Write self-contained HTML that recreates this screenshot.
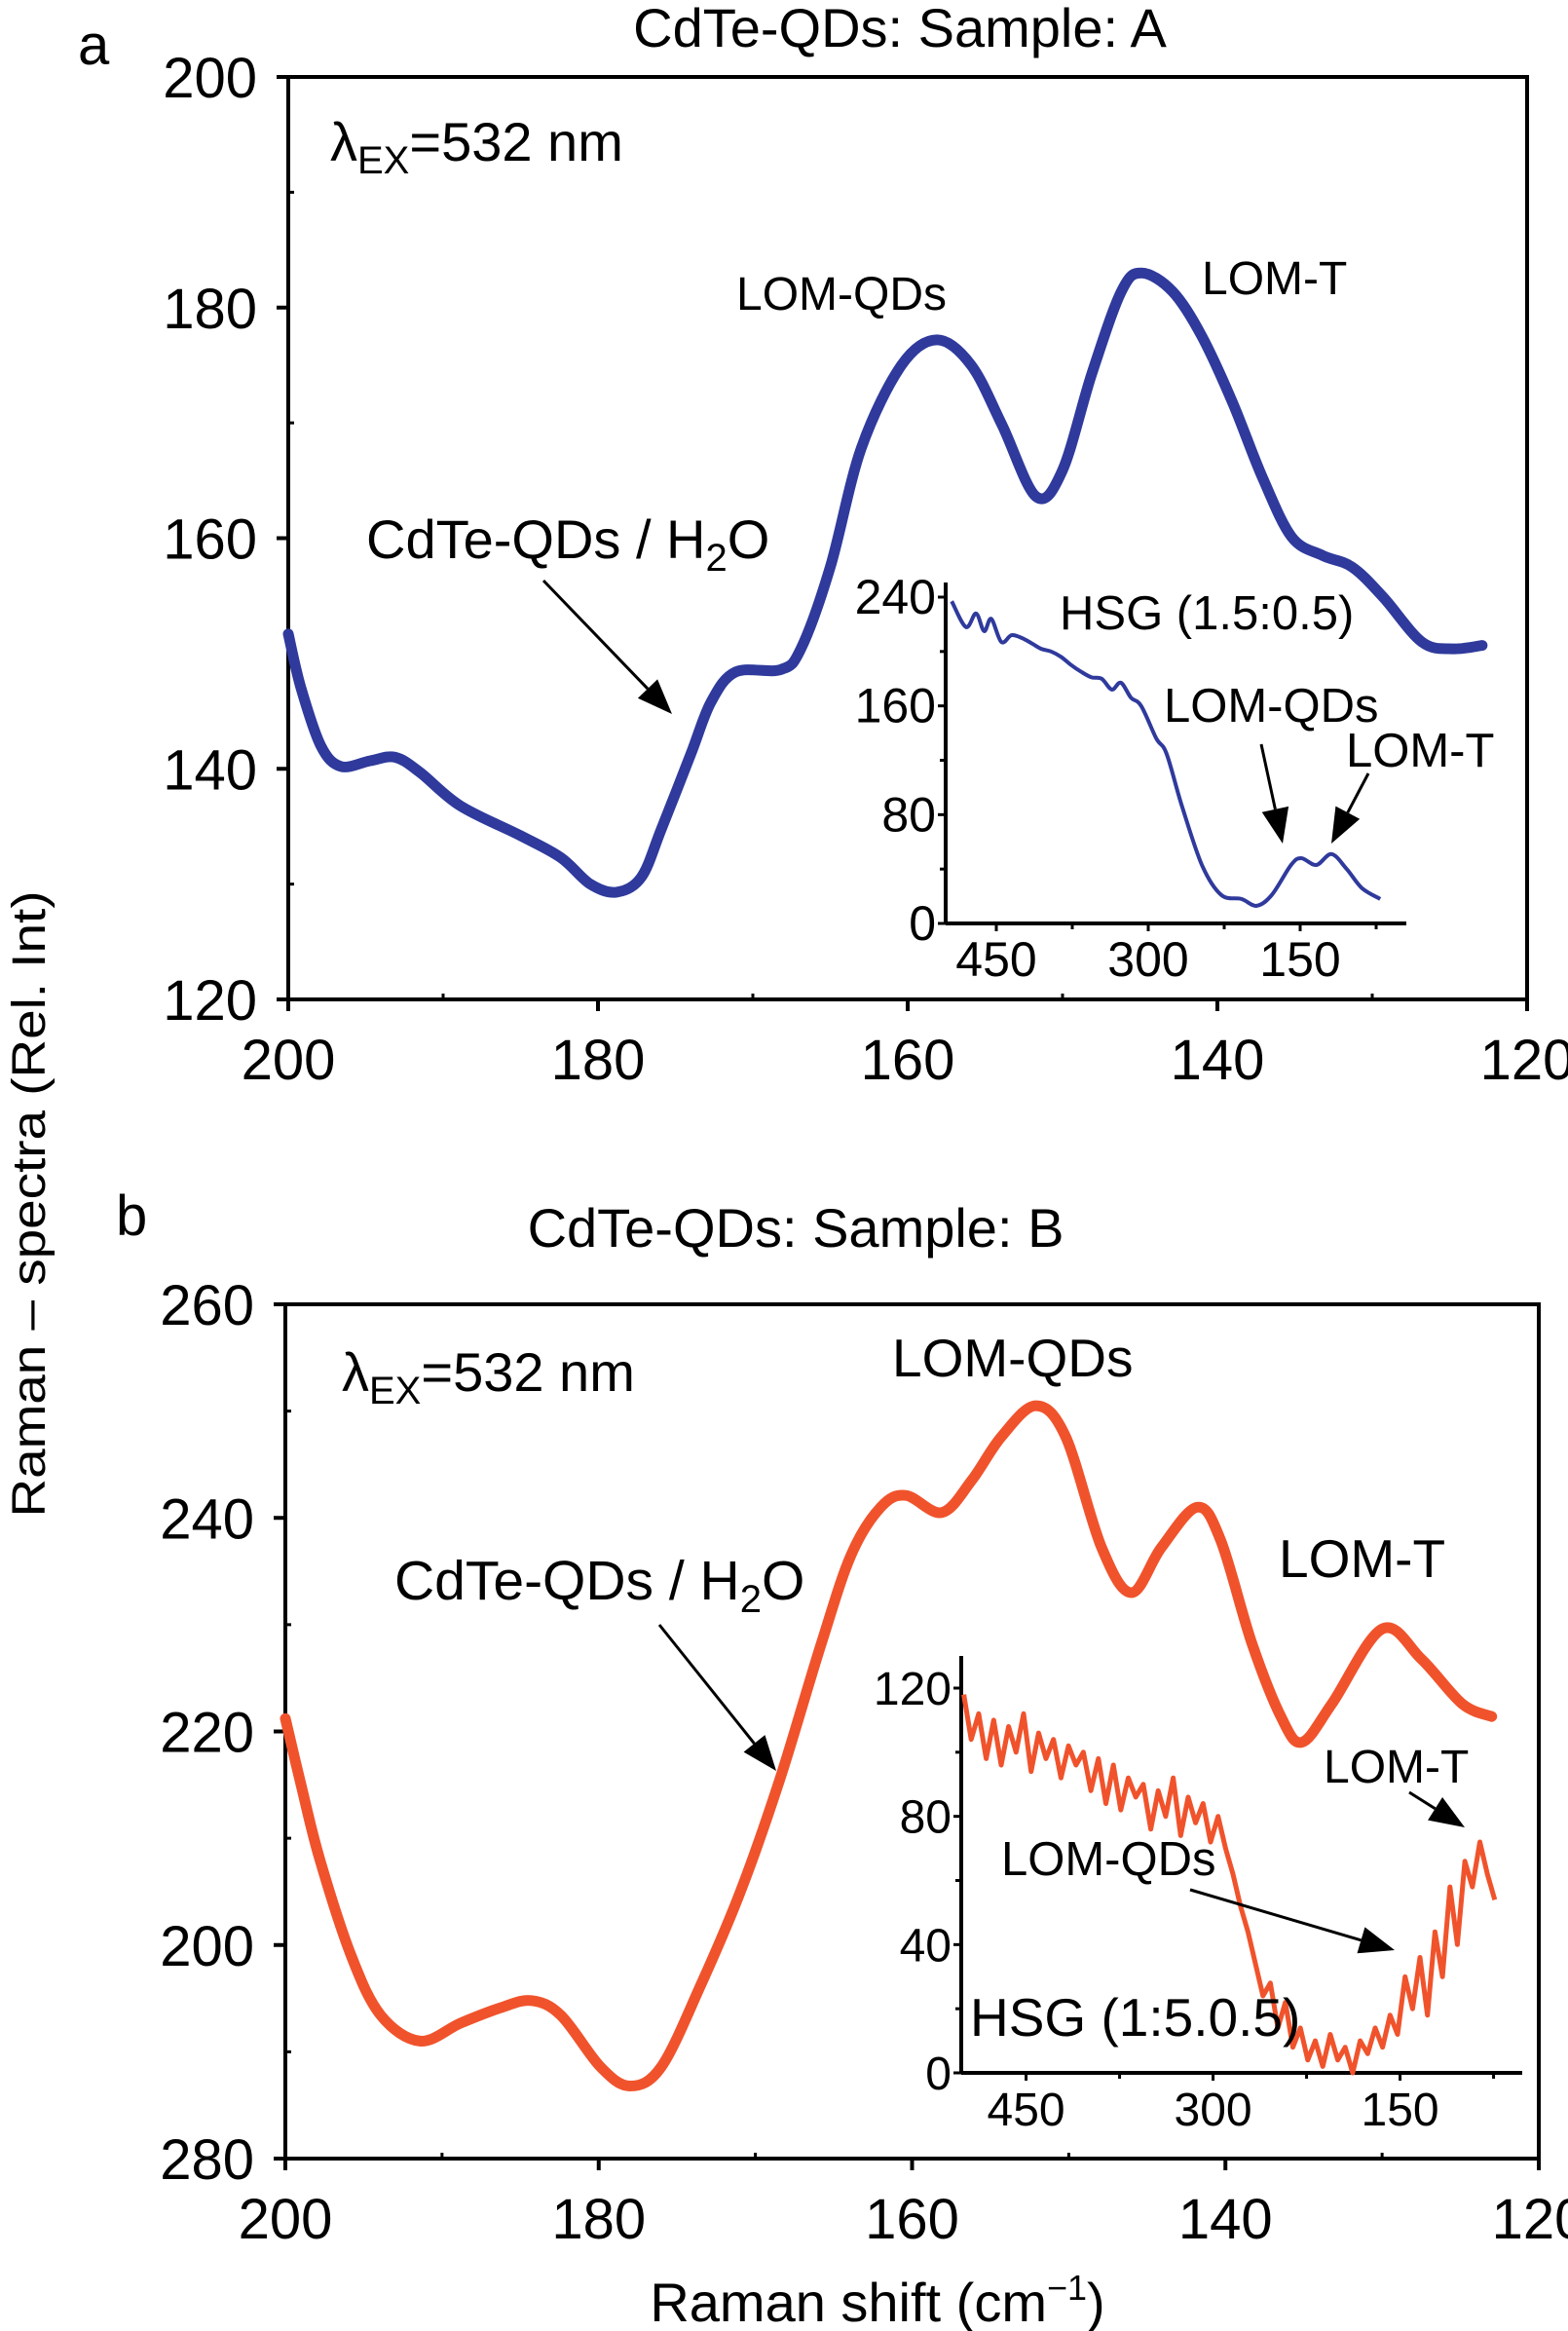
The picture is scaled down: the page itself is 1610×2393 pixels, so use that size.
<!DOCTYPE html>
<html><head><meta charset="utf-8"><style>
html,body{margin:0;padding:0;background:#fff}
svg{display:block}
text{font-family:"Liberation Sans",Arial,sans-serif;fill:#000}
</style></head><body>
<svg id="fig" width="1610" height="2393" viewBox="0 0 1610 2393" xmlns="http://www.w3.org/2000/svg">
<g id="layer"></g>
</svg>
<script>
// ---- Panel A main data ----
const aX=[200,199.2,197.9,196.6,194.7,193.1,191.5,188.9,185,182.4,180.5,178.8,177.2,175.9,174,172.7,171.1,168.2,166.9,165,163,160.4,158.1,155.9,153.9,151.7,150,148.1,146.2,144.9,142.9,141,139,137.1,135.2,133.2,131.3,129.3,126.8,124.8,122.9];
const aY=[151.7,147.1,142,140.2,140.7,141,139.7,136.8,134.2,132.3,130,129.3,130.6,134.8,141.3,145.8,148.4,148.6,150.4,157.5,167.8,175,177.2,175,169.8,163.6,165.9,174.3,181.4,183,181.4,177.5,171.7,165.3,160.1,158.5,157.5,154.9,151,150.4,150.7];
const aYTicks=[200,180,160,140,120];
const aXTicks=[200,180,160,140,120];
// ---- Panel A inset data ----
const aiX=[494,480,470,462,455,445,435,425,415,406,396,386,376,366,356,346,336,327,317,307,292,282,267,247,228,208,193,178,159,149,134,119,104,89,71];
const aiY=[237,218,228,215,224,207,212,210,206,202,200,196,190,185,181,180,172,177,166,160,136,125,87,43,21,18,13,21,43,48,43,51,40,26,18];
const aiYTicks=[240,160,80,0];
const aiXTicks=[450,300,150];
// ---- Panel B main data ----
const bX=[200,199,197.8,195.8,193.9,191.4,188.8,186.3,184.3,182.4,179.9,178,176,173.5,170.9,168.4,165.8,163.9,162,160.4,158.1,156.2,154.3,152.1,150.2,147.9,146,144.1,141.8,140.3,138.3,136.4,135.1,133.2,130,127.5,124.9,123];
const bY=[221.2,215,208,199,193.4,191,192.7,194.1,194.8,193.4,188.6,186.8,188.6,196.2,205.2,215.7,228.2,236.5,241,242.1,240.5,243.5,247.6,250.5,247.6,237.2,233,237.2,241,237.9,228.2,221.2,219,222.6,229.6,226.8,222.6,221.4];
const bYTicks=[260,240,220,200,180];
const bYTickLabels=["260","240","220","200","280"];
const bXTicks=[200,180,160,140,120];
// ---- Panel B inset data (noisy) ----
const biX=[500,494,488,482,476,470,464,458,452,446,440,434,428,422,416,410,404,398,392,386,380,374,368,362,356,350,344,338,332,326,320,314,308,302,296,290,284,278,272,266,260,254,248,242,236,230,224,218,212,206,200,194,188,182,176,170,164,158,152,146,140,134,128,122,116,110,104,98,92,86,80,74];
const biY=[118,104,112,98,110,96,108,100,112,94,106,98,104,92,102,96,100,88,98,84,96,82,92,86,90,76,88,80,92,74,86,78,84,72,80,70,62,52,44,34,24,28,14,22,8,14,4,10,2,12,4,8,0,10,6,14,8,18,12,30,20,36,18,44,30,58,40,66,58,72,62,54];
const biYTicks=[120,80,40,0];
const biXTicks=[450,300,150];

const NS='http://www.w3.org/2000/svg';
const layer=document.getElementById('layer');
function el(tag,attrs,parent){const e=document.createElementNS(NS,tag);for(const k in attrs)e.setAttribute(k,attrs[k]);(parent||layer).appendChild(e);return e;}
function lin(d0,d1,r0,r1){return v=>r0+(v-d0)*(r1-r0)/(d1-d0);}
function pathD(xs,ys,sx,sy){return xs.map((x,i)=>(i?'L':'M')+sx(x).toFixed(1)+','+sy(ys[i]).toFixed(1)).join(' ');}
function smoothD(xs,ys,sx,sy){
  const P=xs.map((x,i)=>[sx(x),sy(ys[i])]);
  let d='M'+P[0][0].toFixed(1)+','+P[0][1].toFixed(1);
  for(let i=0;i<P.length-1;i++){
    const p0=P[Math.max(0,i-1)],p1=P[i],p2=P[i+1],p3=P[Math.min(P.length-1,i+2)];
    const c1=[p1[0]+(p2[0]-p0[0])/6,p1[1]+(p2[1]-p0[1])/6];
    const c2=[p2[0]-(p3[0]-p1[0])/6,p2[1]-(p3[1]-p1[1])/6];
    d+=` C${c1[0].toFixed(1)},${c1[1].toFixed(1)} ${c2[0].toFixed(1)},${c2[1].toFixed(1)} ${p2[0].toFixed(1)},${p2[1].toFixed(1)}`;
  }
  return d;
}
function txt(s,x,y,size,anchor,name,parent){const t=el('text',{x:x,y:y,'font-size':size,'text-anchor':anchor||'start'},parent);t.textContent=s;


return t;}

function panel(o){
  const g=el('g',{});
  
  
  const sx=lin(o.xd[0],o.xd[1],o.L,o.R), sy=lin(o.yd[0],o.yd[1],o.B,o.T);
  const frame=el('rect',{x:o.L,y:o.T,width:o.R-o.L,height:o.B-o.T,fill:'none',stroke:'#000','stroke-width':4},g);
  
  
  o.yTicks.forEach((v,i)=>{
    const y=sy(v);
    el('line',{x1:o.L-12,x2:o.L,y1:y,y2:y,stroke:'#000','stroke-width':4},g);
    if(i<o.yTicks.length-1){const m=sy((v+o.yTicks[i+1])/2);el('line',{x1:o.L,x2:o.L+6,y1:m,y2:m,stroke:'#000','stroke-width':3},g);}
    txt(o.yLabels?o.yLabels[i]:String(v),o.L-32,y+21,58,'end','y-tick-label',g);
  });
  o.xTicks.forEach((v,i)=>{
    const x=sx(v);
    el('line',{x1:x,x2:x,y1:o.B,y2:o.B+12,stroke:'#000','stroke-width':4},g);
    if(i<o.xTicks.length-1){const m=sx((v+o.xTicks[i+1])/2);el('line',{x1:m,x2:m,y1:o.B,y2:o.B-6,stroke:'#000','stroke-width':3},g);}
    txt(String(v),x,o.B+82,58,'middle','x-tick-label',g);
  });
  const p=el('path',{d:smoothD(o.xs,o.ys,sx,sy),fill:'none',stroke:o.color,'stroke-width':11,'stroke-linejoin':'round','stroke-linecap':'round'},g);
  
  
  return g;
}
function inset(o){
  const g=el('g',{});
  
  
  const sx=lin(o.xd[0],o.xd[1],o.L,o.R), sy=lin(o.yd[0],o.yd[1],o.B,o.T);
  el('line',{x1:o.L,x2:o.L,y1:o.axTop,y2:o.B,stroke:'#000','stroke-width':4},g);
  el('line',{x1:o.L,x2:o.axRight,y1:o.B,y2:o.B,stroke:'#000','stroke-width':4},g);
  o.yTicks.forEach((v,i)=>{const y=sy(v);
    el('line',{x1:o.L-8,x2:o.L,y1:y,y2:y,stroke:'#000','stroke-width':3},g);
    if(i<o.yTicks.length-1){const m=sy((v+o.yTicks[i+1])/2);el('line',{x1:o.L-6,x2:o.L,y1:m,y2:m,stroke:'#000','stroke-width':3},g);}
    txt(String(v),o.L-10,y+17,o.fs,'end','inset-y-tick-label',g);});
  o.xTicks.forEach(v=>{const x=sx(v);
    el('line',{x1:x,x2:x,y1:o.B,y2:o.B+8,stroke:'#000','stroke-width':3},g);
    const m=sx(v-75);el('line',{x1:m,x2:m,y1:o.B,y2:o.B+6,stroke:'#000','stroke-width':3},g);
    txt(String(v),x,o.B+54,o.fs,'middle','inset-x-tick-label',g);});
  const p=el('path',{d:o.smooth?smoothD(o.xs,o.ys,sx,sy):pathD(o.xs,o.ys,sx,sy),fill:'none',stroke:o.color,'stroke-width':o.sw,'stroke-linejoin':'round'},g);
  
  
}
function arrow(x1,y1,x2,y2,name){
const ang=Math.atan2(y2-y1,x2-x1),L=36,W=14;
const bx=x2-L*Math.cos(ang),by=y2-L*Math.sin(ang);
const a=el('line',{x1:x1,y1:y1,x2:bx,y2:by,stroke:'#000','stroke-width':3});


const h=el('polygon',{points:`${x2},${y2} ${bx+W*Math.sin(ang)},${by-W*Math.cos(ang)} ${bx-W*Math.sin(ang)},${by+W*Math.cos(ang)}`,fill:'#000'});

}

// Panel A
panel({name:'panel-a',L:296,R:1568,T:79,B:1026,xd:[200,120],yd:[120,200],xTicks:aXTicks,yTicks:aYTicks,xs:aX,ys:aY,color:'#2f3a9c'});
inset({name:'inset-a',L:971,R:971+450*1.04,xd:[500,50],T:613,B:948,yd:[0,240],axTop:598,axRight:1444,xTicks:aiXTicks,yTicks:aiYTicks,xs:aiX,ys:aiY,color:'#2f3a9c',sw:4,fs:50,smooth:true});
// Panel B
panel({name:'panel-b',L:293,R:1580,T:1339,B:2216,xd:[200,120],yd:[180,260],xTicks:bXTicks,yTicks:bYTicks,yLabels:bYTickLabels,xs:bX,ys:bY,color:'#f0532c'});
inset({name:'inset-b',L:987,R:987+450*1.28,xd:[502,52],T:1733,B:2128,yd:[0,120],axTop:1700,axRight:1563,xTicks:biXTicks,yTicks:biYTicks,xs:biX,ys:biY,color:'#f0532c',sw:5,fs:48,smooth:false});

// Labels panel A
txt('a',80,66,58,'start','panel-a-letter');
txt('CdTe-QDs: Sample: A',924,48,56,'middle','panel-a-title');
let t=txt('',339,165,56,'start','excitation-label-a');t.innerHTML='λ<tspan font-size="40" dy="13">EX</tspan><tspan dy="-13">=532 nm</tspan>';
txt('LOM-QDs',756,318,48,'start','lom-qds-label-a');
txt('LOM-T',1234,302,48,'start','lom-t-label-a');
t=txt('',376,573,56,'start','cdte-h2o-label-a');t.innerHTML='CdTe-QDs / H<tspan font-size="40" dy="13">2</tspan><tspan dy="-13">O</tspan>';
arrow(558,596,690,733,'arrow-cdte-a');
txt('HSG (1.5:0.5)',1088,646,49,'start','inset-a-title');
txt('LOM-QDs',1195,741,49,'start','inset-a-lom-qds');
txt('LOM-T',1382,787,49,'start','inset-a-lom-t');
arrow(1295,764,1317,866,'arrow-inset-a-qds');
arrow(1405,794,1367,866,'arrow-inset-a-t');
// Y axis title
t=txt('Raman – spectra (Rel. Int)',0,0,48,'middle','y-axis-title');t.setAttribute('transform','translate(46,1236) rotate(-90)');t.setAttribute('textLength','643');t.setAttribute('lengthAdjust','spacingAndGlyphs');
// Labels panel B
txt('b',119,1268,58,'start','panel-b-letter');
txt('CdTe-QDs: Sample: B',817,1280,56,'middle','panel-b-title');
t=txt('',351,1428,56,'start','excitation-label-b');t.innerHTML='λ<tspan font-size="40" dy="13">EX</tspan><tspan dy="-13">=532 nm</tspan>';
txt('LOM-QDs',916,1413,55,'start','lom-qds-label-b');
txt('LOM-T',1313,1619,55,'start','lom-t-label-b');
t=txt('',405,1642,57,'start','cdte-h2o-label-b');t.innerHTML='CdTe-QDs / H<tspan font-size="40" dy="13">2</tspan><tspan dy="-13">O</tspan>';
arrow(677,1668,797,1818,'arrow-cdte-b');
txt('LOM-T',1359,1830,48,'start','inset-b-lom-t');
arrow(1447,1840,1504,1876,'arrow-inset-b-t');
txt('LOM-QDs',1028,1925,49,'start','inset-b-lom-qds');
arrow(1222,1940,1432,2002,'arrow-inset-b-qds');
txt('HSG (1:5.0.5)',996,2090,55,'start','inset-b-title');
t=txt('',901,2383,56,'middle','x-axis-title');t.innerHTML='Raman shift (cm<tspan font-size="36" dy="-22">−1</tspan><tspan dy="22">)</tspan>';
</script>
</body></html>
